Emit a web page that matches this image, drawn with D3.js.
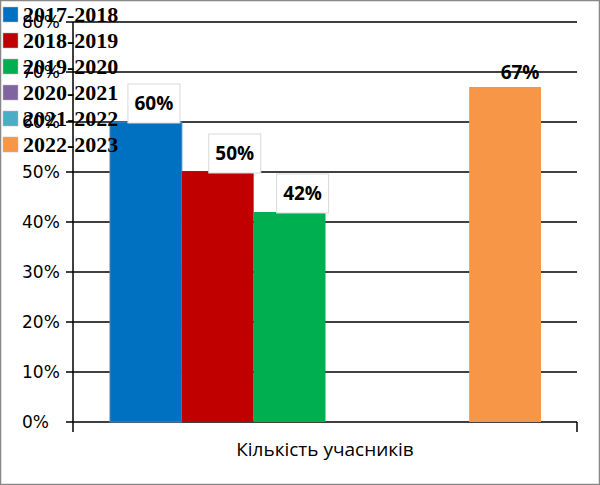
<!DOCTYPE html>
<html><head><meta charset="utf-8">
<script src="https://cdn.jsdelivr.net/npm/d3@7"></script>
<style>body{margin:0;background:#fff}svg{display:block}</style>
</head><body>
<svg id="c" width="600" height="485"></svg>
<script>
const category = "Кількість учасників";
const seriesNames = ["2017-2018","2018-2019","2019-2020","2020-2021","2021-2022","2022-2023"];
const seriesValues = [60,50,42,0,0,67];
const seriesColors = ["#0070C0","#C00000","#00B050","#8064A2","#4BACC6","#F79646"];
const yTicks = [0,10,20,30,40,50,60,70,80];

(function(){
const svg = d3.select("#c");
const W=600,H=485;
svg.append("rect").attr("x",0.5).attr("y",0.5).attr("width",W-1).attr("height",H-1)
  .attr("fill","#fff").attr("stroke","#888").attr("stroke-width",1.5);

const pL=73,pR=577,pT=22,pB=422;
const y=d3.scaleLinear().domain([0,80]).range([pB,pT]);
const x1=d3.scaleBand().domain(seriesNames).range([pL+37,pR-36]).padding(0);

svg.append("g").selectAll("line").data(yTicks).join("line")
  .attr("x1",pL-7).attr("x2",pR).attr("y1",d=>y(d)).attr("y2",d=>y(d))
  .attr("stroke","#000").attr("stroke-width",1.5);

svg.append("line").attr("x1",pL).attr("x2",pL).attr("y1",pT).attr("y2",pB+10)
  .attr("stroke","#000").attr("stroke-width",1.5);
svg.append("line").attr("x1",pR).attr("x2",pR).attr("y1",pB).attr("y2",pB+10)
  .attr("stroke","#000").attr("stroke-width",1.5);

svg.append("g").selectAll("text").data(yTicks).join("text")
  .attr("x",22).attr("y",d=>y(d)+6).attr("text-anchor","start")
  .attr("font-family","DejaVu Sans").attr("font-size",17).attr("fill","#000")
  .text(d=>d+"%");

svg.append("g").selectAll("rect").data(seriesValues).join("rect")
  .attr("x",(d,i)=>x1(seriesNames[i])).attr("width",x1.bandwidth())
  .attr("y",d=>y(d)).attr("height",d=>pB-y(d))
  .attr("fill",(d,i)=>seriesColors[i])
  .attr("stroke",(d,i)=>i===0?"#4F81BD":"none").attr("stroke-width",1);

const lab = svg.append("g");
seriesValues.forEach((v,i)=>{
  if(!v) return;
  const cx=x1(seriesNames[i])+x1.bandwidth()/2;
  if(i<3){
    const boxW=52;
    const boxX = cx + [ -18, -9, -13 ][i];
    const by=y(v)-38;
    lab.append("rect").attr("x",boxX).attr("y",by).attr("width",boxW).attr("height",39)
      .attr("fill","#fff").attr("stroke","#d9d9d9").attr("stroke-width",1);
    lab.append("text").attr("x",boxX+boxW/2).attr("y",by+26).attr("text-anchor","middle")
      .attr("font-family","Open Sans").attr("font-weight","bold").attr("font-size",19)
      .text(v+"%");
  } else {
    lab.append("text").attr("x",cx+15).attr("y",y(v)-8).attr("text-anchor","middle")
      .attr("font-family","Open Sans").attr("font-weight","bold").attr("font-size",19)
      .text(v+"%");
  }
});

svg.append("text").attr("x",(pL+pR)/2).attr("y",456).attr("text-anchor","middle")
  .attr("font-family","Open Sans").attr("font-size",19).text(category);

const lg=svg.append("g");
seriesNames.forEach((n,i)=>{
  const yy=8+i*26;
  lg.append("rect").attr("x",3).attr("y",yy-1).attr("width",15).attr("height",15)
    .attr("fill",seriesColors[i]).attr("stroke","#bbb").attr("stroke-width",0.5);
  lg.append("text").attr("x",23).attr("y",yy+14).attr("font-family","Liberation Serif")
    .attr("font-weight","bold").attr("font-size",22).text(n);
});
})();
</script>
</body></html>
